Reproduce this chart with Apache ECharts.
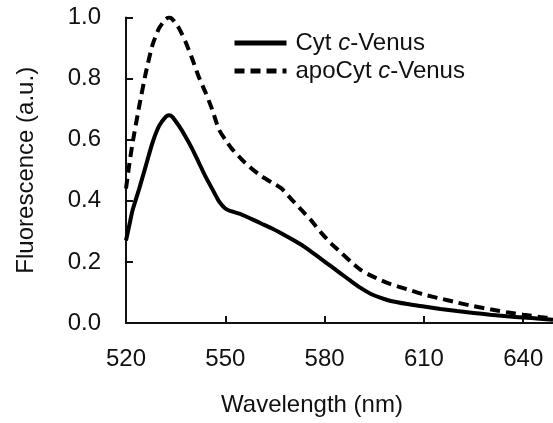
<!DOCTYPE html>
<html>
<head>
<meta charset="utf-8">
<script src="https://cdn.jsdelivr.net/npm/echarts@6/dist/echarts.min.js"></script>
<style>
  html, body { margin: 0; padding: 0; background: #fff; }
  #chart { width: 553px; height: 423px; }
</style>
</head>
<body>
<div id="chart"></div>
<script>
// wavelength (nm)
const wavelengths = [520, 521, 522, 524, 526, 528, 530, 532, 533, 534, 536, 538, 540, 542, 544, 546, 548, 550, 552, 555, 558, 561, 564, 567, 570, 573, 576, 579, 582, 585, 588, 591, 594, 597, 600, 605, 610, 615, 620, 625, 630, 635, 640, 645, 649];
// Cyt c-Venus
const cytValues = [0.27, 0.32, 0.37, 0.44, 0.515, 0.59, 0.645, 0.675, 0.68, 0.675, 0.645, 0.61, 0.57, 0.525, 0.48, 0.44, 0.40, 0.375, 0.365, 0.355, 0.34, 0.325, 0.31, 0.293, 0.275, 0.256, 0.233, 0.209, 0.185, 0.161, 0.137, 0.114, 0.095, 0.082, 0.072, 0.062, 0.054, 0.046, 0.039, 0.033, 0.027, 0.022, 0.018, 0.014, 0.011];
// apoCyt c-Venus
const apoValues = [0.44, 0.52, 0.59, 0.71, 0.82, 0.91, 0.965, 0.995, 1.0, 0.995, 0.965, 0.92, 0.865, 0.805, 0.755, 0.70, 0.635, 0.60, 0.57, 0.535, 0.505, 0.48, 0.46, 0.44, 0.405, 0.37, 0.335, 0.295, 0.26, 0.23, 0.2, 0.173, 0.155, 0.14, 0.127, 0.11, 0.093, 0.08, 0.067, 0.055, 0.045, 0.035, 0.027, 0.02, 0.015];
const xTicks = [520, 550, 580, 610, 640];
const seriesNames = ["Cyt c-Venus", "apoCyt c-Venus"];

const font = "Liberation Sans, Arial, sans-serif";
const ink = "#111";

const myChart = echarts.init(document.getElementById("chart"));
const option = {
  animation: false,
  backgroundColor: "#fff",
  grid: {
    left: 126,
    right: 0,
    top: 17.5,
    bottom: 100,
    containLabel: false,
    outerBoundsMode: "none",
  },
  legend: {
    left: 227,
    top: 26,
    orient: "vertical",
    itemWidth: 52,
    itemHeight: 14,
    itemGap: 4,
    data: seriesNames,
    itemStyle: { color: "transparent", borderWidth: 0, opacity: 0 },
    lineStyle: { width: 5 },
    formatter: function (name) {
      return name.replace(" c-", " {i|c}-");
    },
    textStyle: {
      fontFamily: font,
      fontSize: 24,
      color: ink,
      padding: [0, 0, 0, 4],
      rich: {
        i: { fontFamily: font, fontSize: 24, fontStyle: "italic", color: ink },
      },
    },
  },
  xAxis: {
    type: "value",
    min: 520,
    max: 649,
    name: "Wavelength (nm)",
    nameLocation: "middle",
    nameGap: 70,
    nameTextStyle: {
      fontFamily: font,
      fontSize: 24,
      color: ink,
      padding: [0, 55, 0, 0],
    },
    axisLine: { show: true, onZero: false, lineStyle: { color: ink, width: 2 } },
    axisTick: {
      show: true,
      inside: true,
      length: 7,
      customValues: xTicks,
      lineStyle: { color: ink, width: 2 },
    },
    axisLabel: {
      customValues: xTicks,
      margin: 24,
      fontFamily: font,
      fontSize: 24,
      color: ink,
    },
    splitLine: { show: false },
  },
  yAxis: {
    type: "value",
    min: 0,
    max: 1,
    interval: 0.2,
    name: "Fluorescence (a.u.)",
    nameLocation: "middle",
    nameGap: 88,
    nameTextStyle: { fontFamily: font, fontSize: 24, color: ink },
    axisLine: { show: true, lineStyle: { color: ink, width: 2 } },
    axisTick: { show: true, inside: true, length: 7, lineStyle: { color: ink, width: 2 } },
    axisLabel: {
      margin: 25,
      fontFamily: font,
      fontSize: 24,
      color: ink,
      formatter: function (v) {
        return v.toFixed(1);
      },
    },
    splitLine: { show: false },
  },
  series: [
    {
      name: seriesNames[0],
      type: "line",
      data: wavelengths.map((w, i) => [w, cytValues[i]]),
      smooth: 0.2,
      symbol: "none",
      clip: true,
      lineStyle: { color: "#000", width: 4, type: "solid" },
      itemStyle: { color: "#000" },
    },
    {
      name: seriesNames[1],
      type: "line",
      data: wavelengths.map((w, i) => [w, apoValues[i]]),
      smooth: 0.2,
      symbol: "none",
      clip: true,
      lineStyle: { color: "#000", width: 4, type: [10, 6] },
      itemStyle: { color: "#000" },
    },
  ],
};
option && myChart.setOption(option);
</script>
</body>
</html>
